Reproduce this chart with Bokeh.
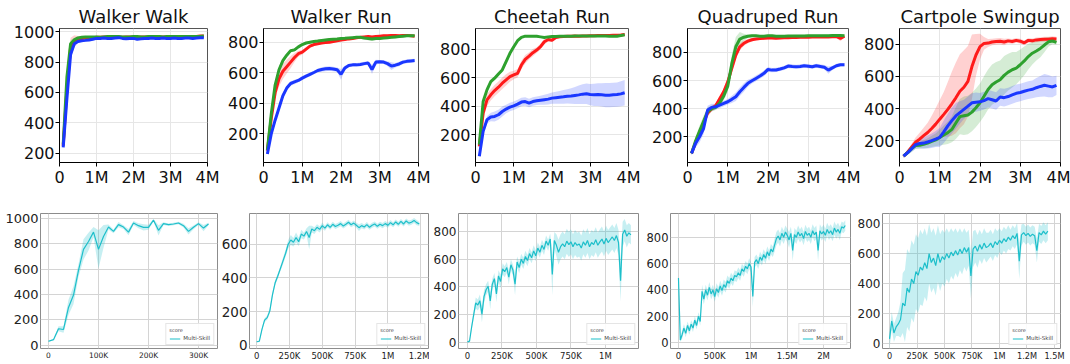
from bokeh.plotting import figure
from bokeh.layouts import row, column
from bokeh.models import FixedTicker, Range1d, Legend, LegendItem
from bokeh.embed import file_html
from bokeh.resources import INLINE

FONT = "DejaVu Sans"
RED, GREEN, BLUE, CYAN = "#ff1a1a", "#2ea12e", "#1a37ff", "#1dbfca"

# ---------------- top row data (x in millions of steps) ----------------
TOP_STEPS_M = [0.1, 0.2, 0.3, 0.4, 0.5, 0.6, 0.7, 0.8, 0.9, 1.0,
               1.1, 1.2, 1.3, 1.4, 1.5, 1.6, 1.7, 1.8, 1.9, 2.0,
               2.1, 2.2, 2.3, 2.4, 2.5, 2.6, 2.7, 2.8, 2.9, 3.0,
               3.1, 3.2, 3.3, 3.4, 3.5, 3.6, 3.7, 3.8, 3.9]
TOP_TITLES = ["Walker Walk", "Walker Run", "Cheetah Run", "Quadruped Run", "Cartpole Swingup"]

WW_RED = [250, 620, 900, 935, 950, 955, 958, 960, 960, 962, 962, 965, 965, 965, 965, 965, 963, 965, 965, 965,
          963, 965, 965, 965, 965, 965, 965, 965, 965, 965, 965, 965, 967, 967, 967, 968, 968, 970, 970]
WW_GREEN = [260, 700, 920, 945, 958, 962, 965, 965, 965, 965, 962, 965, 968, 968, 968, 968, 965, 965, 965, 968,
            968, 965, 965, 968, 968, 968, 968, 965, 968, 968, 968, 968, 968, 968, 968, 968, 968, 968, 970]
WW_BLUE = [240, 560, 850, 920, 935, 940, 942, 945, 950, 955, 955, 958, 955, 955, 958, 960, 955, 952, 955, 955,
           950, 952, 955, 955, 958, 955, 955, 958, 955, 955, 958, 955, 955, 958, 958, 955, 958, 960, 960]
WW_RED_SD = [15, 70, 60, 40, 20, 10, 8, 6, 5, 5, 5, 5, 5, 5, 5, 5, 5, 5, 5, 5,
             5, 5, 5, 5, 5, 5, 5, 5, 5, 5, 5, 5, 5, 5, 5, 5, 5, 5, 5]
WW_GREEN_SD = [15, 40, 25, 15, 8, 5, 5, 5, 5, 5, 5, 5, 5, 5, 5, 5, 5, 5, 5, 5,
               5, 5, 5, 5, 5, 5, 5, 5, 5, 5, 5, 5, 5, 5, 5, 5, 5, 5, 5]
WW_BLUE_SD = [10, 40, 40, 20, 10, 8, 5, 5, 5, 5, 5, 5, 5, 5, 5, 5, 5, 5, 5, 5,
              5, 5, 5, 5, 5, 5, 5, 5, 5, 5, 5, 5, 5, 5, 5, 5, 5, 5, 5]

WR_RED = [90, 300, 470, 560, 610, 640, 670, 700, 725, 735, 755, 775, 785, 790, 795, 798, 800, 805, 810, 815,
          818, 822, 825, 830, 832, 835, 838, 835, 838, 840, 842, 842, 845, 845, 843, 845, 845, 843, 840]
WR_GREEN = [95, 330, 520, 620, 680, 715, 745, 750, 770, 785, 795, 800, 805, 808, 812, 815, 818, 820, 822, 825,
            826, 828, 830, 832, 832, 828, 825, 822, 825, 825, 828, 830, 832, 835, 838, 840, 842, 843, 842]
WR_BLUE = [69, 200, 290, 370, 450, 500, 530, 540, 550, 565, 578, 590, 602, 615, 622, 626, 628, 625, 620, 590,
           632, 648, 652, 652, 655, 660, 664, 622, 670, 672, 670, 660, 644, 650, 658, 670, 675, 678, 680]
WR_RED_SD = [10, 30, 40, 50, 50, 45, 40, 30, 20, 15, 12, 10, 10, 8, 8, 8, 8, 8, 8, 8,
             8, 8, 8, 8, 8, 8, 8, 8, 8, 8, 8, 8, 8, 8, 8, 8, 8, 8, 8]
WR_GREEN_SD = [10, 25, 30, 20, 15, 12, 10, 10, 8, 8, 8, 8, 8, 8, 8, 8, 8, 8, 8, 8,
               8, 8, 8, 8, 10, 12, 12, 12, 10, 8, 8, 8, 8, 8, 8, 8, 8, 8, 8]
WR_BLUE_SD = [8, 15, 20, 20, 18, 15, 15, 15, 12, 12, 12, 12, 12, 12, 15, 15, 15, 15, 15, 35,
              15, 12, 12, 12, 12, 12, 12, 30, 15, 12, 12, 15, 25, 15, 15, 12, 12, 12, 12]

CR_RED = [118, 352, 445, 480, 510, 534, 562, 585, 608, 620, 632, 690, 730, 753, 777, 795, 819, 854, 870, 865,
          884, 889, 890, 892, 892, 894, 893, 895, 895, 896, 896, 897, 898, 898, 898, 900, 900, 902, 905]
CR_GREEN = [130, 433, 515, 573, 597, 627, 655, 714, 772, 819, 861, 884, 893, 893, 893, 892, 888, 884, 888, 890,
            890, 892, 892, 893, 893, 894, 895, 895, 895, 895, 894, 895, 895, 895, 893, 892, 893, 897, 903]
CR_BLUE = [48, 223, 305, 324, 328, 340, 363, 380, 394, 403, 415, 429, 433, 422, 433, 438, 442, 446, 450, 457,
           460, 463, 466, 470, 472, 476, 480, 485, 488, 482, 480, 482, 480, 478, 478, 480, 482, 487, 495]
CR_RED_SD = [10, 40, 45, 40, 40, 40, 40, 40, 35, 30, 30, 30, 30, 25, 25, 20, 20, 20, 15, 12,
             10, 8, 8, 8, 8, 8, 8, 8, 8, 8, 8, 8, 8, 8, 8, 8, 8, 8, 8]
CR_GREEN_SD = [10, 20, 20, 15, 15, 15, 15, 15, 12, 10, 8, 6, 6, 6, 6, 6, 6, 6, 6, 6,
               6, 6, 6, 6, 6, 6, 6, 6, 6, 6, 6, 6, 6, 6, 6, 6, 6, 6, 6]
CR_BLUE_SD = [10, 20, 25, 30, 35, 35, 35, 30, 30, 30, 30, 30, 30, 30, 30, 30, 32, 35, 38, 40,
              42, 45, 48, 50, 55, 60, 65, 70, 72, 75, 78, 80, 82, 85, 85, 85, 85, 88, 90]

QR_RED = [82, 160, 230, 300, 370, 400, 420, 470, 520, 590, 686, 781, 840, 865, 880, 890, 895, 898, 900, 902,
          902, 900, 902, 905, 905, 906, 906, 908, 908, 908, 910, 910, 910, 910, 910, 912, 912, 900, 915]
QR_GREEN = [82, 170, 240, 310, 380, 400, 410, 440, 490, 560, 720, 840, 895, 908, 915, 918, 918, 915, 915, 918,
            918, 915, 915, 915, 916, 916, 917, 917, 917, 918, 918, 918, 918, 919, 919, 920, 920, 920, 918]
QR_BLUE = [82, 153, 200, 259, 390, 409, 413, 425, 437, 449, 466, 485, 520, 551, 580, 598, 615, 632, 651, 679,
           674, 675, 682, 690, 703, 700, 698, 700, 705, 702, 698, 705, 700, 695, 674, 690, 705, 712, 712]
QR_RED_SD = [10, 30, 30, 30, 25, 20, 20, 20, 25, 30, 35, 30, 25, 20, 15, 12, 10, 10, 8, 8,
             8, 8, 8, 8, 8, 8, 8, 8, 8, 8, 8, 8, 8, 8, 8, 8, 8, 20, 8]
QR_GREEN_SD = [10, 30, 40, 40, 30, 20, 20, 20, 30, 40, 60, 70, 50, 25, 12, 10, 8, 8, 8, 8,
               8, 8, 8, 8, 8, 8, 8, 8, 8, 8, 8, 8, 8, 8, 8, 8, 8, 8, 8]
QR_BLUE_SD = [15, 30, 40, 40, 30, 25, 20, 20, 20, 20, 25, 30, 30, 30, 25, 20, 20, 20, 20, 18,
              15, 15, 15, 15, 15, 15, 15, 15, 15, 15, 15, 15, 15, 15, 25, 15, 15, 12, 12]

CS_RED = [103, 128, 159, 190, 210, 231, 251, 276, 303, 334, 364, 395, 430, 467, 508, 533, 570, 662, 734, 786,
          806, 808, 815, 818, 820, 815, 822, 818, 825, 820, 810, 825, 822, 828, 830, 832, 832, 835, 833]
CS_GREEN = [103, 125, 150, 170, 172, 178, 185, 195, 205, 220, 235, 250, 270, 310, 350, 355, 360, 378, 405, 436,
            477, 519, 549, 566, 580, 607, 627, 642, 652, 673, 697, 724, 745, 759, 775, 796, 816, 821, 812]
CS_BLUE = [103, 125, 150, 175, 182, 185, 192, 200, 210, 220, 255, 292, 325, 354, 375, 395, 415, 436, 440, 442,
           450, 462, 455, 447, 472, 468, 475, 485, 495, 500, 508, 515, 520, 530, 538, 545, 540, 535, 545]
CS_RED_SD = [10, 15, 20, 30, 40, 50, 60, 80, 100, 120, 140, 170, 200, 220, 230, 230, 220, 200, 130, 80,
             40, 25, 20, 20, 20, 20, 15, 15, 15, 15, 15, 15, 15, 15, 15, 15, 15, 15, 15]
CS_GREEN_SD = [10, 15, 20, 20, 20, 25, 30, 35, 40, 50, 60, 70, 80, 100, 110, 120, 120, 120, 120, 120,
               125, 125, 125, 125, 120, 120, 115, 110, 100, 95, 90, 80, 70, 60, 55, 45, 30, 20, 15]
CS_BLUE_SD = [10, 15, 20, 25, 30, 35, 40, 45, 50, 60, 70, 75, 80, 80, 70, 60, 60, 60, 60, 55,
              55, 55, 55, 55, 55, 55, 55, 55, 55, 55, 55, 55, 55, 60, 65, 70, 70, 65, 60]

TOP_DATA = [
    (WW_RED, WW_RED_SD, WW_GREEN, WW_GREEN_SD, WW_BLUE, WW_BLUE_SD),
    (WR_RED, WR_RED_SD, WR_GREEN, WR_GREEN_SD, WR_BLUE, WR_BLUE_SD),
    (CR_RED, CR_RED_SD, CR_GREEN, CR_GREEN_SD, CR_BLUE, CR_BLUE_SD),
    (QR_RED, QR_RED_SD, QR_GREEN, QR_GREEN_SD, QR_BLUE, QR_BLUE_SD),
    (CS_RED, CS_RED_SD, CS_GREEN, CS_GREEN_SD, CS_BLUE, CS_BLUE_SD),
]
TOP_YRANGES = [(140, 1020), (13, 890), (4, 947), (17, 970), (64, 899)]
TOP_YTICKS = [[200, 400, 600, 800, 1000], [200, 400, 600, 800], [200, 400, 600, 800],
              [200, 400, 600, 800], [200, 400, 600, 800]]
TOP_XTICKS = [0, 1000000, 2000000, 3000000, 4000000]
TOP_XLABELS = ["0", "1M", "2M", "3M", "4M"]

# ---------------- bottom row data (x in thousands of steps) ----------------
B1_STEP_K, B2_STEP_K, B3_STEP_K, B4_STEP_K, B5_STEP_K = 10, 20, 15, 25, 20
B1_Y = [32, 45, 131, 125, 299, 397, 592, 757, 819, 893, 757, 859, 933, 899, 952, 933, 893, 965, 944, 931,
        931, 987, 907, 960, 952, 957, 965, 944, 899, 931, 960, 925, 957]
B1_SD = [5, 5, 20, 25, 60, 70, 50, 80, 70, 40, 150, 90, 20, 15, 20, 15, 25, 15, 20, 25,
         20, 10, 40, 10, 10, 10, 10, 15, 25, 15, 10, 25, 10]
B2_Y = [22, 25, 95, 150, 165, 205, 300, 370, 410, 455, 500, 545, 600, 625, 612, 640, 615, 660, 648, 675,
        640, 690, 680, 700, 688, 710, 695, 715, 700, 718, 705, 712, 722, 708, 718, 730, 715, 725, 712, 698,
        710, 702, 716, 700, 712, 720, 706, 718, 710, 722, 712, 728, 715, 732, 718, 735, 720, 738, 725, 730,
        740, 728, 720]
B2_SD = [5, 5, 10, 12, 12, 15, 15, 15, 15, 15, 20, 20, 25, 30, 25, 30, 25, 25, 20, 20,
         70, 20, 20, 18, 18, 18, 15, 15, 15, 15, 15, 15, 15, 15, 15, 15, 15, 15, 15, 20,
         15, 15, 15, 15, 15, 15, 15, 15, 15, 15, 15, 15, 15, 15, 15, 15, 15, 15, 15, 15,
         15, 15, 12]
B3_Y = [5, 10, 110, 200, 285, 270, 300, 205, 330, 380, 405, 300, 420, 460, 350, 480, 440, 530, 510, 540,
        470, 560, 520, 420, 580, 540, 600, 570, 620, 590, 640, 610, 660, 625, 680, 650, 700, 670, 730, 700,
        745, 490, 735, 700, 650, 690, 710, 690, 730, 705, 725, 690, 720, 700, 710, 680, 725, 700, 735, 690,
        720, 705, 740, 700, 725, 745, 710, 750, 720, 740, 760, 735, 770, 720, 445, 780, 810, 765, 790, 775]
B3_SD = [5, 5, 20, 30, 40, 40, 45, 60, 45, 40, 40, 60, 40, 40, 60, 40, 50, 40, 40, 40,
         50, 40, 40, 80, 40, 40, 40, 40, 40, 40, 40, 40, 40, 40, 40, 40, 40, 40, 40, 40,
         40, 150, 60, 80, 90, 90, 90, 90, 90, 90, 90, 90, 90, 90, 90, 90, 90, 90, 90, 90,
         90, 90, 90, 90, 90, 90, 90, 90, 90, 90, 90, 90, 90, 90, 150, 90, 80, 80, 70, 70]
B4_Y = [490, 20, 60, 110, 70, 130, 90, 140, 110, 170, 130, 200, 160, 390, 330, 400, 360, 420, 370, 400,
        350, 410, 380, 430, 395, 440, 420, 470, 450, 490, 470, 510, 500, 530, 510, 560, 540, 580, 560, 600,
        575, 350, 610, 630, 600, 650, 625, 670, 640, 690, 660, 710, 690, 740, 790, 810, 780, 830, 800, 840,
        815, 780, 830, 700, 820, 800, 840, 810, 830, 790, 845, 815, 830, 800, 850, 820, 840, 700, 850, 825,
        845, 815, 860, 830, 850, 820, 870, 840, 860, 830, 880, 870, 890]
B4_SD = [20, 15, 30, 30, 30, 30, 30, 30, 30, 30, 30, 30, 30, 50, 40, 40, 40, 40, 40, 40,
         40, 40, 40, 40, 40, 40, 40, 40, 40, 40, 40, 40, 40, 40, 40, 40, 40, 40, 40, 40,
         40, 80, 40, 40, 40, 40, 40, 40, 40, 40, 40, 40, 40, 50, 50, 50, 50, 50, 50, 50,
         50, 60, 50, 80, 50, 50, 50, 50, 50, 50, 50, 50, 50, 50, 50, 50, 50, 80, 50, 50,
         50, 50, 50, 50, 50, 50, 50, 50, 50, 50, 40, 40, 40]
B5_Y = [30, 150, 70, 110, 130, 160, 270, 250, 370, 340, 430, 400, 480, 455, 510, 490, 540, 500, 600, 540,
        570, 520, 600, 540, 580, 560, 600, 570, 610, 585, 620, 590, 630, 600, 640, 610, 640, 450, 630, 650,
        615, 660, 630, 670, 640, 650, 670, 640, 680, 660, 690, 670, 700, 680, 710, 690, 720, 700, 735, 550,
        725, 740, 720, 735, 715, 730, 720, 620, 740, 725, 750, 730, 750]
B5_SD = [60, 60, 60, 60, 80, 120, 200, 240, 260, 260, 260, 260, 250, 250, 250, 240, 230, 220, 200, 200,
         200, 200, 190, 190, 180, 180, 170, 170, 160, 160, 150, 150, 140, 140, 130, 130, 120, 150, 120, 110,
         110, 100, 100, 100, 100, 90, 90, 90, 90, 90, 80, 80, 80, 80, 80, 70, 70, 70, 70, 120,
         70, 60, 60, 60, 60, 60, 60, 80, 60, 60, 60, 60, 60]

BOT_DATA = [(B1_STEP_K, B1_Y, B1_SD), (B2_STEP_K, B2_Y, B2_SD), (B3_STEP_K, B3_Y, B3_SD),
            (B4_STEP_K, B4_Y, B4_SD), (B5_STEP_K, B5_Y, B5_SD)]
BOT_XRANGES = [(-16000, 338000), (-55000, 1310000), (-65000, 1240000), (-110000, 2372000), (-64000, 1555000)]
BOT_YRANGES = [(-25, 1040), (-18, 782), (-43, 929), (-45, 981), (-34, 868)]
BOT_XTICKS = [
    ([0, 100000, 200000, 300000], ["0", "100K", "200K", "300K"]),
    ([0, 250000, 500000, 750000, 1000000, 1250000], ["0", "250K", "500K", "750K", "1M", "1.2M"]),
    ([0, 250000, 500000, 750000, 1000000], ["0", "250K", "500K", "750K", "1M"]),
    ([0, 500000, 1000000, 1500000, 2000000], ["0", "500K", "1M", "1.5M", "2M"]),
    ([0, 250000, 500000, 750000, 1000000, 1250000, 1500000], ["0", "250K", "500K", "750K", "1M", "1.2M", "1.5M"]),
]
BOT_YTICKS = [[0, 200, 400, 600, 800, 1000], [0, 200, 400, 600], [0, 200, 400, 600, 800],
              [0, 200, 400, 600, 800], [0, 200, 400, 600, 800]]

# ---------------- layout geometry ----------------
TOP_H = 196
TOP_GEOM = [(59, 148, 14), (42, 155, 14), (43, 153, 14), (45, 161, 12), (39, 161, 10)]
BOT_H = 168
BOT_GEOM = [(40, 177, 1), (29, 181, 1), (29, 180, 1), (31, 180, 1), (31, 178, 10)]
BOT_YFONT = ["13px", "13.5px", "12px", "11.5px", "12px"]
BOT_XFONT = ["7.5px", "8.5px", "8.5px", "8.5px", "8.2px"]


def make_top(i):
    left, fw, right = TOP_GEOM[i]
    p = figure(width=left + fw + right, height=TOP_H, output_backend="svg", toolbar_location=None,
               x_range=Range1d(0, 4000000), y_range=Range1d(*TOP_YRANGES[i]),
               min_border_left=left, min_border_right=right, min_border_top=28, min_border_bottom=34,
               title=TOP_TITLES[i])
    p.title.text_font = FONT
    p.title.text_font_size = "18px"
    p.title.text_font_style = "normal"
    p.title.align = "center"
    p.title.standoff = 3
    p.title.text_color = "#111111"
    xs = [v * 1000000 for v in TOP_STEPS_M]
    r, rsd, g, gsd, b, bsd = TOP_DATA[i]
    for ys, sd, c in ((r, rsd, RED), (g, gsd, GREEN), (b, bsd, BLUE)):
        p.varea(x=xs, y1=[y - s for y, s in zip(ys, sd)], y2=[y + s for y, s in zip(ys, sd)],
                fill_color=c, fill_alpha=0.2)
    for ys, c in ((r, RED), (g, GREEN), (b, BLUE)):
        p.line(xs, ys, line_color=c, line_width=3)
    p.xaxis.ticker = FixedTicker(ticks=TOP_XTICKS)
    p.xaxis.major_label_overrides = dict(zip(TOP_XTICKS, TOP_XLABELS))
    p.yaxis.ticker = FixedTicker(ticks=TOP_YTICKS[i])
    for ax in (p.xaxis, p.yaxis):
        ax.major_label_text_font = FONT
        ax.major_label_text_font_size = "16px"
        ax.major_label_text_color = "#111111"
        ax.axis_line_color = "black"
        ax.major_tick_line_color = "black"
        ax.major_tick_out = 4
        ax.major_tick_in = 0
        ax.minor_tick_line_color = None
        ax.major_label_standoff = 1
    p.grid.grid_line_color = "#e6e6e6"
    p.outline_line_color = "#555555"
    p.background_fill_color = "white"
    return p


def make_bot(i):
    left, fw, right = BOT_GEOM[i]
    step, ys, sd = BOT_DATA[i]
    xs = [k * step * 1000 for k in range(len(ys))]
    p = figure(width=left + fw + right, height=BOT_H, output_backend="svg", toolbar_location=None,
               x_range=Range1d(*BOT_XRANGES[i]), y_range=Range1d(*BOT_YRANGES[i]),
               min_border_left=left, min_border_right=right, min_border_top=17, min_border_bottom=16)
    p.varea(x=xs, y1=[y - s for y, s in zip(ys, sd)], y2=[y + s for y, s in zip(ys, sd)],
            fill_color=CYAN, fill_alpha=0.25)
    ln = p.line(xs, ys, line_color=CYAN, line_width=1.2)
    ticks, labels = BOT_XTICKS[i]
    p.xaxis.ticker = FixedTicker(ticks=ticks)
    p.xaxis.major_label_overrides = dict(zip(ticks, labels))
    p.yaxis.ticker = FixedTicker(ticks=BOT_YTICKS[i])
    p.xaxis.major_label_text_font_size = BOT_XFONT[i]
    p.yaxis.major_label_text_font_size = BOT_YFONT[i]
    for ax in (p.xaxis, p.yaxis):
        ax.major_label_text_font = FONT
        ax.major_label_text_color = "#222222"
        ax.axis_line_color = None
        ax.major_tick_line_color = None
        ax.minor_tick_line_color = None
        ax.major_tick_out = 0
        ax.major_tick_in = 0
        ax.major_label_standoff = 2
    p.grid.grid_line_color = "#d4d4d4"
    p.outline_line_color = "#8c8c8c"
    leg = Legend(items=[LegendItem(label="Multi-Skill", renderers=[ln])], location="bottom_right",
                 title="score")
    leg.title_text_font = FONT
    leg.title_text_font_size = "5px"
    leg.title_text_font_style = "normal"
    leg.label_text_font = FONT
    leg.label_text_font_size = "5.5px"
    leg.glyph_width = 11
    leg.glyph_height = 5
    leg.label_height = 5
    leg.label_standoff = 3
    leg.padding = 3
    leg.spacing = 0
    leg.margin = 3
    leg.title_standoff = 2
    leg.border_line_color = "#cccccc"
    leg.background_fill_alpha = 0.9
    p.add_layout(leg)
    return p


top = row(*[make_top(i) for i in range(5)], spacing=0)
bot = row(*[make_bot(i) for i in range(5)], spacing=0)
layout = column(top, bot, spacing=0)

open("out.html", "w").write(file_html(layout, INLINE))
